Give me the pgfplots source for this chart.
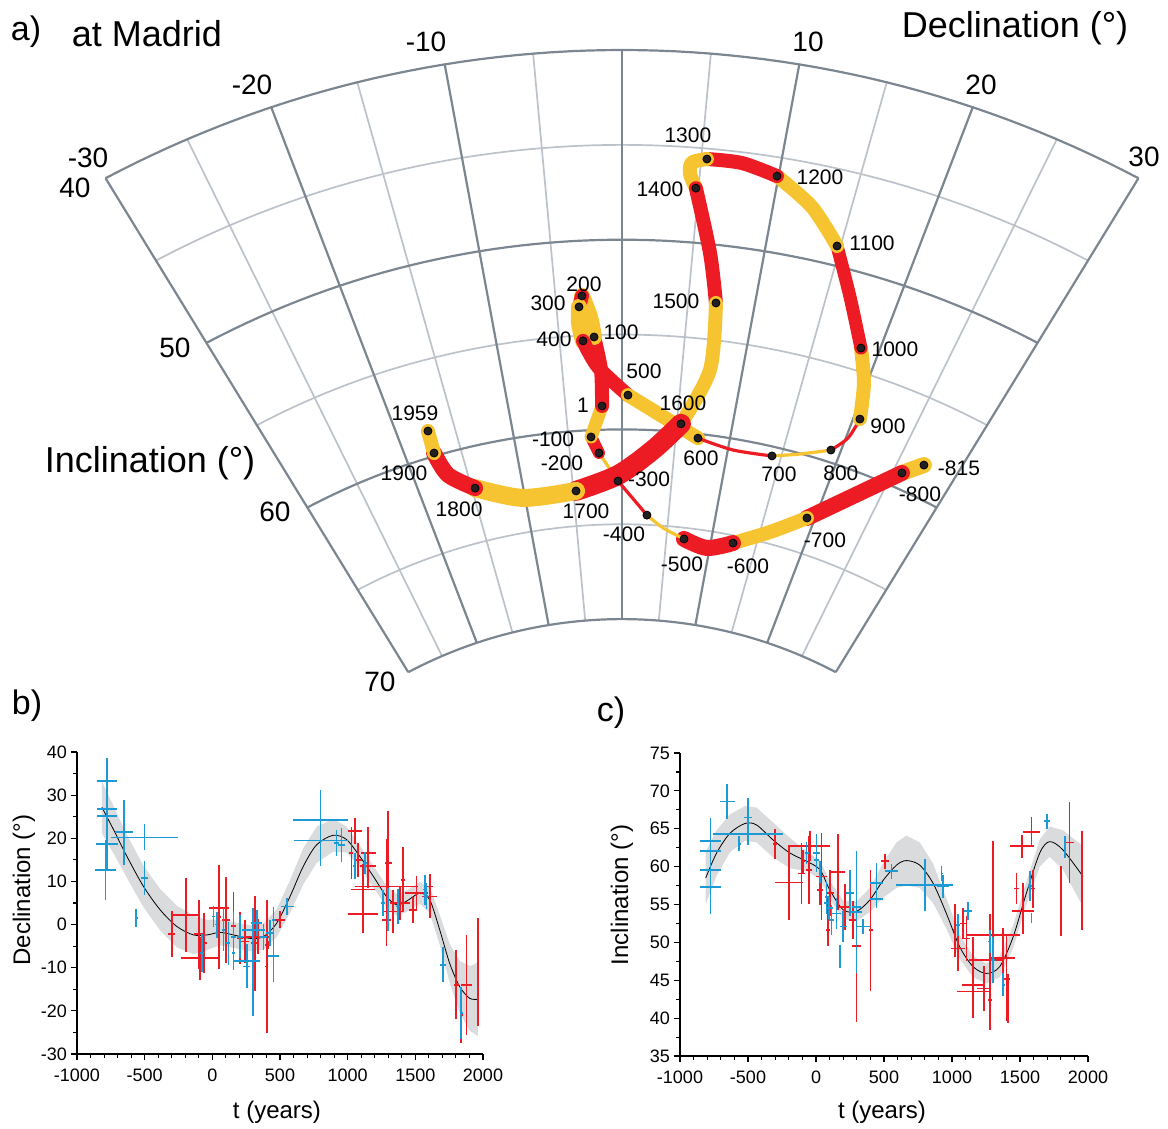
\documentclass[border=0pt]{standalone}
\usepackage{fontspec}
\setmainfont{Liberation Sans}
\usepackage{pgfplots}
\pgfplotsset{compat=1.18}
\usepackage{pgfplotstable}

\definecolor{cred}{RGB}{237,28,36}
\definecolor{cyel}{RGB}{246,196,49}
\definecolor{cblue}{RGB}{28,154,214}
\definecolor{gdark}{RGB}{124,134,144}
\definecolor{glight}{RGB}{188,194,201}
\definecolor{bandc}{RGB}{218,219,221}
\definecolor{dotc}{RGB}{35,31,32}

% dots of the path: declination D, inclination I, label, label offset (pt)
\pgfplotstableread{
D I lab lx ly
27.15 58.32 -815 17.5 -1.5
25.77 59.17 -800 9 -10.5
19.23 63.14 -700 9 -11
12.45 65.40 -600 7.5 -11.5
6.98 65.59 -500 -1 -12.5
2.69 64.49 -400 -11.5 -9.5
-0.40 62.72 -300 15.5 1
-2.21 61.22 -200 -18.5 -5
-2.89 60.36 -100 -19 -1
-1.77 58.75 1 -9.5 0.5
-2.23 55.10 100 13.5 2.5
-3.01 52.91 200 1 6
-3.28 53.48 300 -15.5 2
-3.13 55.28 400 -14.5 1
0.52 58.19 500 8 12
7.07 60.23 600 1.5 -10
14.16 60.49 700 3.5 -9
19.14 59.37 800 5 -11.5
20.54 57.35 900 14 -3.5
18.62 53.80 1000 17 -0.5
14.77 48.97 1100 17.5 1.5
9.90 45.99 1200 21.5 -0.5
5.36 45.55 1300 -9.5 12
4.83 47.13 1400 -18 -0.5
7.10 53.05 1500 -20 1
5.37 59.57 1600 1 10.5
-4.72 63.15 1700 5 -10
-14.68 62.17 1800 -8 -10.5
-17.44 59.84 1900 -15 -10
-17.34 58.64 1959 -6.5 9
}\dotstab

% model curves and their uncertainty half-width
\pgfplotstableread{
t v h
-816 27.2 6
-730 22.0 5.5
-631 15.8 5.0
-508 8.8 4.8
-385 3.4 4.8
-262 -0.45 4.8
-139 -2.4 4.5
-41 -2.4 3.5
57 -1.8 3.0
156 -2.4 3.0
279 -3.2 3.0
377 -2.8 3.0
475 0.3 3.2
574 6.5 3.8
672 13.5 4.2
771 18.5 4.2
893 20.7 3.8
992 19.7 3.0
1090 15.8 2.5
1189 11.2 2.5
1287 6.5 2.5
1361 4.6 2.5
1434 5.4 2.5
1533 7.3 2.5
1607 5.7 3.0
1680 -1.2 3.5
1754 -9.0 4.5
1828 -14.4 6.0
1902 -17.1 7.5
1963 -17.3 8.5
}\bcurve

\pgfplotstableread{
t v h
-811 58.5 3.5
-731 61.8 3.0
-633 64.4 2.5
-522 65.7 2.3
-437 65.5 2.3
-314 63.5 2.3
-192 61.8 2.0
-69 60.7 1.3
29 59.6 1.2
102 56.9 1.2
200 54.3 1.2
298 54.1 1.3
396 55.6 1.6
494 58.2 2.3
592 60.2 3.0
665 60.8 3.3
763 60.2 3.0
861 57.8 2.6
959 53.8 2.0
1057 49.4 1.6
1155 46.8 1.4
1253 45.9 1.3
1351 46.8 1.4
1449 50.7 1.5
1547 56.5 1.5
1645 61.8 1.8
1718 63.3 2.0
1816 62.2 2.6
1963 58.7 4.0
}\ccurve

% data with errors: t, value, t error, value error
\pgfplotstableread{
t v et ev
-780 33.2 75 5.3
-780 26.8 75 5
-780 25.1 75 4
-780 18.6 80 6
-790 12.7 75 7
-651 21.4 68 7.5
-501 20.2 250 3
-501 10.8 27 4
-562 1.5 10 2
800 24.3 205 7
800 19.5 200 6
918 18.9 20 3
955 18.5 25 4
1053 13.5 10 3
1127 14.3 15 2.5
1262 5.0 15 3
1299 3.4 10 5
1373 4.2 15 4
1570 8.1 15 3.5
1582 6.6 10 3
1705 -9.3 20 4
1840 -20.5 10 6
-78 -6.6 15 4.5
8 1.9 10 2.5
33 0 10 3
82 -1.2 10 5
119 -4.3 15 5
156 -6.6 10 4
205 -2.8 20 5
254 -9.7 25 5
254 -8.5 100 4
303 -1.2 85 3
300 -8.7 10 12.5
328 0.3 40 3
377 -2.8 30 3
451 -7.3 40 6
451 1.1 10 3
554 4.2 50 2
426 -2.0 30 3
156 -2.8 20 6
}\bblue

\pgfplotstableread{
t v et ev
-299 -2.2 25 5.4
-196 2.2 105 8.5
-98 -2.2 40 8
-90 -7.8 145 5
-61 -4.3 25 7
50 1.8 15 12
50 3.8 75 4
102 1.1 30 10
156 -0.4 20 8
205 -3.2 25 6
242 -3.9 30 5
316 -4.3 30 11
402 -9.7 10 15.5
410 -4.7 20 1
340 -2.8 90 4
500 1.1 40 2
1053 21.7 50 3
1028 16.6 15 6
1078 15.0 25 4
1152 16.6 55 6
1152 13.5 60 5
1115 8.1 90 6
1115 2.5 110 4.5
1287 8.8 235 11
1299 14.3 25 12
1287 1.1 30 6
1385 5.0 75 4
1410 10.4 15 7.5
1484 3.4 30 3
1508 7.3 85 4
1607 6.5 55 5
1607 8.8 20 3
1803 -14.0 20 8
1840 -20.9 10 6.5
1877 -14.0 40 11.5
1963 -10.9 5 12.5
1336 3.0 70 5
}\bred

\pgfplotstableread{
t v et ev
-775 63.4 80 3
-775 62.1 75 3
-775 59.6 80 5
-775 57.3 80 3.5
-652 68.6 55 2.3
-498 64.3 257 1.5
-498 66.5 30 2.6
-564 63.0 10 1
800 57.6 210 3.4
935 57.4 45 1.5
923 59.1 5 1
1045 52.3 15 1.5
1118 54.1 30 1.2
1278 50.1 10 1.5
1302 47.7 15 3
1376 44.4 10 1.5
1572 57.4 15 2
1584 53.2 5 0.7
1699 66.0 20 1
1833 62.6 5 1.5
555 59.4 45 1
445 57.8 45 2.7
445 55.7 50 1.2
-69 61.8 15 1.5
4 60.9 20 1.5
29 59.3 10 1.5
78 56.0 15 2
97 54.5 25 1.5
114 53.0 15 2
151 53.8 35 2
176 48.1 10 1.5
200 52.1 25 2
249 56.5 30 3
298 54.0 40 8
347 52.1 50 1
298 54.7 30 2
78 55.2 20 1.5
4 61.8 25 2.5
}\cblue

\pgfplotstableread{
t v et ev
-302 63.0 15 2
-199 57.9 105 5
-45 62.7 150 2
-94 60.7 15 1.5
-106 59.1 25 4
-50 59.6 20 4.5
41 58.7 40 5.8
29 56.9 25 2
102 56.5 30 3
90 53.0 10 3
90 51.6 15 2.1
163 59.3 50 5
212 54.7 40 3
273 53.0 30 2.5
298 49.5 30 10
401 51.6 15 8
506 60.7 30 1
1020 51.6 10 3.5
1045 49.2 50 3
1082 52.5 20 2
1106 50.5 25 3
1155 47.7 30 3
1155 44.4 80 3.5
1155 43.5 120 3.5
1302 51.0 195 1
1302 57.4 10 6
1278 42.4 15 4
1278 47.7 100 6
1376 47.9 90 4
1400 45.2 30 5.6
1412 42.6 5 3.2
1474 57.1 20 2
1515 62.7 85 1.5
1584 64.6 65 2
1523 54.1 80 3
1596 57.1 15 2.5
1523 55.8 10 2
1799 55.5 5 4.6
1865 63.2 30 5.3
1958 58.2 3 6.5
1236 43.9 50 3
}\cred

\newcommand{\seg}[3]{\addplot[color=#1, line width=#2, smooth, line cap=round, line join=round, no marks, forget plot] table[row sep=\\, x expr={fx(\thisrow{D},\thisrow{I})}, y expr={fy(\thisrow{D},\thisrow{I})}] {#3};}

\pgfplotsset{
  bstyle/.style={scale only axis, axis lines=left, axis line style={-, line width=0.6pt},
    tick align=outside, tick style={black, line width=0.55pt},
    major tick length=3pt, minor tick length=2pt,
    xmin=-1000, xmax=2000,
    xtick={-1000,-500,0,500,1000,1500,2000},
    xticklabels={-1000,-500,0,500,1000,1500,2000},
    minor x tick num=4,
    ticklabel style={font=\fontsize{9}{10}\selectfont},
    xticklabel style={yshift=-1pt},
    yticklabel style={xshift=1.5pt}},
  errb/.style={only marks, mark=*, mark size=0.01pt, mark options={draw=none, fill=none},
    color=#1, stack plots=false,
    error bars/.cd, x dir=both, x explicit, y dir=both, y explicit, error mark=none,
    error bar style={color=#1, line width=0.85pt}},
}

\begin{document}
\begin{tikzpicture}[declare function={
  rr(\DD,\II)=(971-18.97*(\II-40))*(1+0.018*(\DD/30)*(\DD/30));
  fx(\DD,\II)=622+rr(\DD,\II)*sin(1.05*\DD);
  fy(\DD,\II)=108+rr(\DD,\II)*cos(1.05*\DD);}]
\useasboundingbox (0,0) rectangle (584pt,-564.5pt);

% ---------------- panel a ----------------
\begin{axis}[at={(0pt,-564.5pt)}, anchor=south west, x=0.5pt, y=0.5pt,
  xmin=0, xmax=1168, ymin=0, ymax=1129, axis lines=none, ticks=none, clip=false]
% light graticule
\pgfplotsinvokeforeach{45,55,65}{
  \addplot[glight, line width=0.85pt, domain=-30:30, samples=61, no marks, forget plot] ({fx(x,#1)},{fy(x,#1)});}
\pgfplotsinvokeforeach{-25,-15,-5,5,15,25}{
  \addplot[glight, line width=0.85pt, domain=40:70, samples=2, no marks, forget plot] ({fx(#1,x)},{fy(#1,x)});}
% dark graticule
\pgfplotsinvokeforeach{40,50,60,70}{
  \addplot[gdark, line width=1.1pt, domain=-30:30, samples=61, no marks, forget plot] ({fx(x,#1)},{fy(x,#1)});}
\pgfplotsinvokeforeach{-30,-20,-10,0,10,20,30}{
  \addplot[gdark, line width=1.1pt, domain=40:70, samples=2, no marks, forget plot] ({fx(#1,x)},{fy(#1,x)});}

% path, century by century
\seg{cyel}{8pt}{D I\\ 27.15 58.32\\ 25.77 59.17\\}
\seg{cred}{8pt}{D I\\ 25.77 59.17\\ 19.23 63.14\\}
\seg{cyel}{7pt}{D I\\ 19.23 63.14\\ 16.04 64.39\\ 12.45 65.40\\}
\seg{cred}{8pt}{D I\\ 12.45 65.40\\ 9.70 65.90\\ 6.98 65.59\\}
\seg{cyel}{1.6pt}{D I\\ 6.98 65.59\\ 4.53 65.11\\ 2.69 64.49\\}
\seg{cred}{1.6pt}{D I\\ 2.69 64.49\\ -0.40 62.72\\}
\seg{cyel}{1.6pt}{D I\\ -0.40 62.72\\ -2.21 61.22\\}
\seg{cred}{6pt}{D I\\ -2.21 61.22\\ -2.89 60.36\\}
\seg{cyel}{6.5pt}{D I\\ -2.89 60.36\\ -1.77 58.75\\}
\seg{cred}{7pt}{D I\\ -1.77 58.75\\ -1.76 56.85\\ -2.23 55.10\\}
\seg{cyel}{8pt}{D I\\ -2.23 55.10\\ -2.48 54.04\\ -3.01 52.91\\}
\seg{cred}{7pt}{D I\\ -3.01 52.91\\ -3.28 53.48\\}
\seg{cyel}{8pt}{D I\\ -3.28 53.48\\ -3.36 54.32\\ -3.13 55.28\\}
\seg{cred}{7pt}{D I\\ -3.13 55.28\\ -2.0 56.69\\ 0.52 58.19\\}
\seg{cyel}{7pt}{D I\\ 0.52 58.19\\ 7.07 60.23\\}
\seg{cred}{1.6pt}{D I\\ 7.07 60.23\\ 10.48 60.59\\ 14.16 60.49\\}
\seg{cyel}{1.6pt}{D I\\ 14.16 60.49\\ 16.60 60.03\\ 19.14 59.37\\}
\seg{cred}{1.6pt}{D I\\ 19.14 59.37\\ 20.18 58.49\\ 20.54 57.35\\}
\seg{cyel}{7pt}{D I\\ 20.54 57.35\\ 19.78 55.49\\ 18.62 53.80\\}
\seg{cred}{6.5pt}{D I\\ 18.62 53.80\\ 16.65 51.39\\ 14.77 48.97\\}
\seg{cyel}{7pt}{D I\\ 14.77 48.97\\ 12.51 47.26\\ 9.90 45.99\\}
\seg{cred}{7pt}{D I\\ 9.90 45.99\\ 7.58 45.57\\ 5.36 45.55\\}
\seg{cyel}{7pt}{D I\\ 5.36 45.55\\ 4.44 45.80\\ 4.37 46.39\\ 4.83 47.13\\}
\seg{cred}{7pt}{D I\\ 4.83 47.13\\ 6.23 50.47\\ 7.10 53.05\\}
\seg{cyel}{7pt}{D I\\ 7.10 53.05\\ 7.33 56.59\\ 5.37 59.57\\}
\seg{cred}{10pt}{D I\\ 5.37 59.57\\ 2.96 61.04\\ -0.40 62.40\\ -4.72 63.15\\}
\seg{cyel}{9pt}{D I\\ -4.72 63.15\\ -10.21 63.18\\ -14.68 62.17\\}
\seg{cred}{8pt}{D I\\ -14.68 62.17\\ -16.83 61.14\\ -17.44 59.84\\}
\seg{cyel}{7pt}{D I\\ -17.44 59.84\\ -17.34 58.64\\}

% dots with their years
\addplot[only marks, mark=*, mark size=2pt, mark options={fill=dotc, draw=none},
  point meta=explicit symbolic, nodes near coords={\pgfplotspointmeta},
  visualization depends on={\thisrow{lx}\as\lx},
  visualization depends on={\thisrow{ly}\as\ly},
  every node near coord/.append style={anchor=center, inner sep=0pt,
     xshift=\lx*1pt, yshift=\ly*1pt, font=\fontsize{10.5}{12}\selectfont, text=black}]
  table[x expr={fx(\thisrow{D},\thisrow{I})}, y expr={fy(\thisrow{D},\thisrow{I})}, meta=lab] \dotstab;

% scale labels
\begin{scope}[every node/.style={font=\fontsize{14}{16}\selectfont, inner sep=0pt}]
\node at (axis cs:88,971) {-30};
\node at (axis cs:252,1044) {-20};
\node at (axis cs:426,1087) {-10};
\node at (axis cs:808,1087) {10};
\node at (axis cs:981,1044) {20};
\node at (axis cs:1144,972) {30};
\node at (axis cs:75,941) {40};
\node at (axis cs:175,781) {50};
\node at (axis cs:275,617) {60};
\node at (axis cs:380,447) {70};
\end{scope}
\node[font=\fontsize{18}{20}\selectfont, inner sep=0pt] at (axis cs:1015,1101) {Declination (°)};
\node[font=\fontsize{18}{20}\selectfont, inner sep=0pt] at (axis cs:150,666) {Inclination (°)};
\node[font=\fontsize{17}{19}\selectfont, inner sep=0pt] at (axis cs:26,1097) {a)};
\node[font=\fontsize{18}{20}\selectfont, inner sep=0pt] at (axis cs:147,1095) {at Madrid};
\end{axis}

% ---------------- panel b ----------------
\begin{axis}[bstyle, at={(38.5pt,-527pt)}, anchor=south west, width=203pt, height=151pt,
  ymin=-30, ymax=40, ytick={-30,-20,...,40}, yticklabels={-30,-20,-10,0,10,20,30,40},
  minor y tick num=1]
\addplot[draw=none, stack plots=y, forget plot] table[x=t, y expr=\thisrow{v}-\thisrow{h}] \bcurve;
\addplot[draw=none, fill=bandc, stack plots=y, forget plot] table[x=t, y expr=2*\thisrow{h}] \bcurve \closedcycle;
\addplot[black, line width=0.4pt, smooth, no marks, stack plots=false] table[x=t, y=v] \bcurve;
\addplot[errb=cred] table[x=t, y=v, x error=et, y error=ev] \bred;
\addplot[errb=cblue] table[x=t, y=v, x error=et, y error=ev] \bblue;
\end{axis}

% ---------------- panel c ----------------
\begin{axis}[bstyle, at={(340pt,-528pt)}, anchor=south west, width=204pt, height=151.5pt,
  ymin=35, ymax=75, ytick={35,40,...,75}, yticklabels={35,40,45,50,55,60,65,70,75},
  minor y tick num=1]
\addplot[draw=none, stack plots=y, forget plot] table[x=t, y expr=\thisrow{v}-\thisrow{h}] \ccurve;
\addplot[draw=none, fill=bandc, stack plots=y, forget plot] table[x=t, y expr=2*\thisrow{h}] \ccurve \closedcycle;
\addplot[black, line width=0.4pt, smooth, no marks, stack plots=false] table[x=t, y=v] \ccurve;
\addplot[errb=cred] table[x=t, y=v, x error=et, y error=ev] \cred;
\addplot[errb=cblue] table[x=t, y=v, x error=et, y error=ev] \cblue;
\end{axis}

% ---------------- texts of b and c ----------------
\begin{scope}[x=0.5pt, y=-0.5pt]
\node[font=\fontsize{17}{19}\selectfont, inner sep=0pt] at (27,706) {b)};
\node[font=\fontsize{17}{19}\selectfont, inner sep=0pt] at (611,713) {c)};
\node[font=\fontsize{12}{14}\selectfont, inner sep=0pt] at (277,1112) {t (years)};
\node[font=\fontsize{12}{14}\selectfont, inner sep=0pt] at (882,1112) {t (years)};
\node[font=\fontsize{12}{14}\selectfont, inner sep=0pt, rotate=90] at (24,890) {Declination (°)};
\node[font=\fontsize{12}{14}\selectfont, inner sep=0pt, rotate=90] at (622,895) {Inclination (°)};
\end{scope}
\end{tikzpicture}
\end{document}
